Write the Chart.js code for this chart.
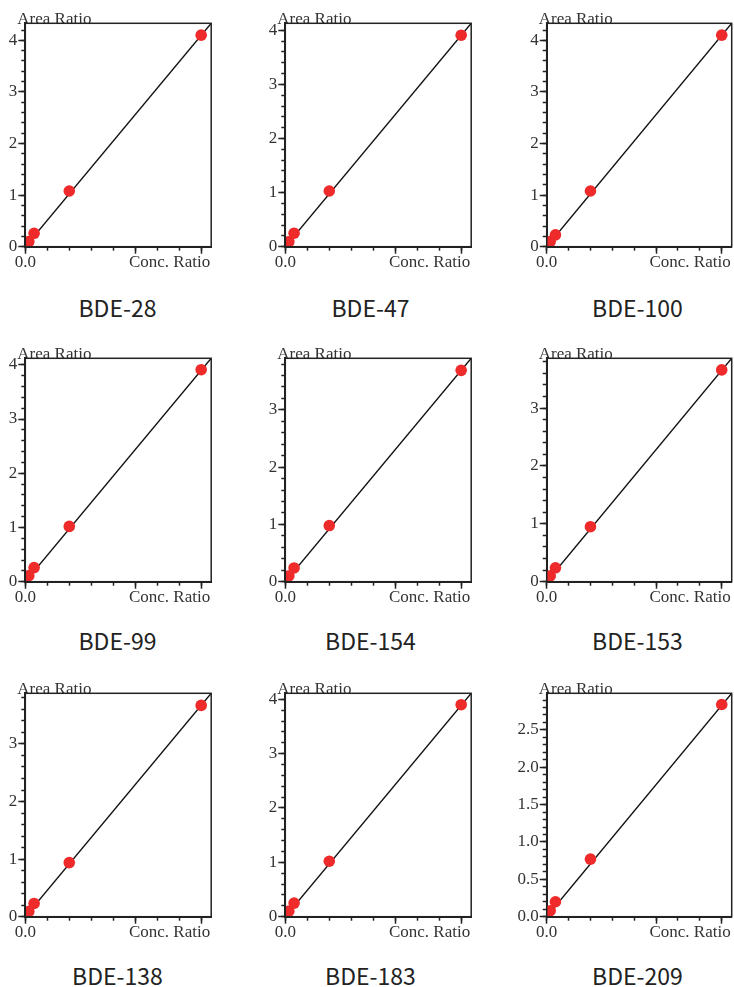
<!DOCTYPE html>
<html><head><meta charset="utf-8">
<script src="https://cdn.jsdelivr.net/npm/chart.js@4"></script>
<style>
html,body{margin:0;padding:0;background:#fff;overflow:hidden;}
#wrap{position:relative;width:734px;height:987px;overflow:hidden;}
canvas{position:absolute;}
.cap{position:absolute;width:200px;text-align:center;font-family:"Noto Sans CJK SC","Noto Sans",sans-serif;font-size:23px;line-height:30px;color:#222;}
</style></head><body><div id="wrap"></div>
<script>
// ---- data ----
const compounds = ['BDE-28','BDE-47','BDE-100','BDE-99','BDE-154','BDE-153','BDE-138','BDE-183','BDE-209'];
const concRatio = [0, 0.02, 0.05, 0.25, 1];
const areaBDE28  = [0.02, 0.10, 0.26, 1.08, 4.10];
const areaBDE47  = [0.03, 0.09, 0.25, 1.03, 3.91];
const areaBDE100 = [0.03, 0.10, 0.23, 1.08, 4.10];
const areaBDE99  = [0.04, 0.11, 0.26, 1.02, 3.91];
const areaBDE154 = [0.03, 0.10, 0.24, 0.98, 3.69];
const areaBDE153 = [0.03, 0.10, 0.24, 0.95, 3.66];
const areaBDE138 = [0.02, 0.09, 0.23, 0.94, 3.67];
const areaBDE183 = [0.03, 0.10, 0.25, 1.02, 3.90];
const areaBDE209 = [0.02, 0.08, 0.20, 0.77, 2.84];
const areaSeries = [areaBDE28, areaBDE47, areaBDE100, areaBDE99, areaBDE154, areaBDE153, areaBDE138, areaBDE183, areaBDE209];
// fitted calibration line: value at the end of the x range
const fitLineStart = [0, 0, 0, 0, 0, 0, 0, 0, 0];
const fitLineEnd   = [4.33, 4.13, 4.33, 4.12, 3.90, 3.86, 3.88, 4.11, 2.99];
// axes
const xAxisMax = 1.057;
const xMajorTicks = [0, 0.625, 1];
const xMinorStep = 0.125;
const xTickLabel = '0.0';
const yAxisMax = [4.33, 4.13, 4.33, 4.12, 3.90, 3.86, 3.88, 4.11, 2.99];
const yMajorStep = [1, 1, 1, 1, 1, 1, 1, 1, 0.5];
const yMinorStep = [0.2, 0.2, 0.2, 0.2, 0.2, 0.2, 0.2, 0.2, 0.1];
const yLabelDecimals = [0, 0, 0, 0, 0, 0, 0, 0, 1];
const yAxisTitle = 'Area Ratio';
const xAxisTitle = 'Conc. Ratio';

// ---- layout ----
const plotLeft = [25.3, 285.3, 546.7];
const plotWidth = [186.7, 187.4, 185];
const plotTop = [23.3, 358.3, 693.3];
const plotHeight = 223.4;
const leftRoom = 40;
const canvasW = 232, canvasH = 282;
const capX = [117.5, 370.5, 637.5];
const capY = [307, 640, 975];

Chart.defaults.font.family = '"Liberation Serif", serif';
Chart.defaults.color = '#333';

const frameText = {
  id: 'frameText',
  afterDraw(chart) {
    const {ctx, chartArea: a} = chart;
    ctx.save();
    ctx.font = '17px "Liberation Serif", serif';
    ctx.fillStyle = '#333';
    ctx.textBaseline = 'alphabetic';
    ctx.textAlign = 'left';
    ctx.fillText(yAxisTitle, a.left - 8, a.top + 1);
    ctx.textAlign = 'right';
    ctx.fillText(xAxisTitle, a.right - 1, a.bottom + 20.3);
    ctx.strokeStyle = '#222';
    ctx.lineWidth = 1.5;
    ctx.strokeRect(a.left, a.top, a.right - a.left, a.bottom - a.top);
    ctx.restore();
  }
};

const wrap = document.getElementById('wrap');
compounds.forEach((name, i) => {
  const col = i % 3, row = Math.floor(i / 3);
  const cLeft = Math.floor(plotLeft[col] - leftRoom);
  const cTop = Math.floor(plotTop[row] - 23);
  const yW = plotLeft[col] - cLeft;
  const padTop = plotTop[row] - cTop;
  const padRight = canvasW - yW - plotWidth[col];
  const xH = canvasH - padTop - plotHeight;

  const cv = document.createElement('canvas');
  cv.width = canvasW; cv.height = canvasH;
  cv.style.left = cLeft + 'px'; cv.style.top = cTop + 'px';
  wrap.appendChild(cv);

  const cap = document.createElement('div');
  cap.className = 'cap';
  cap.textContent = name;
  cap.style.left = (capX[col] - 100) + 'px';
  cap.style.top = (capY[row] - 15) + 'px';
  wrap.appendChild(cap);

  const pts = concRatio.map((x, k) => ({x, y: areaSeries[i][k]}));
  const dec = yLabelDecimals[i];

  new Chart(cv, {
    type: 'scatter',
    data: {
      datasets: [
        { data: pts, backgroundColor: '#ee2a2a', borderWidth: 0, pointRadius: 5.8, order: 0 },
        { data: [{x: 0, y: fitLineStart[i]}, {x: xAxisMax, y: fitLineEnd[i]}], showLine: true,
          borderColor: '#111', borderWidth: 1.4, pointRadius: 0, order: 1 }
      ]
    },
    options: {
      responsive: false, animation: false,
      layout: { padding: { top: padTop, right: padRight, left: 0, bottom: 0 } },
      plugins: { legend: { display: false }, tooltip: { enabled: false }, title: { display: false } },
      scales: {
        x: {
          type: 'linear', position: 'bottom', weight: 1, min: 0, max: xAxisMax,
          afterBuildTicks: ax => { ax.ticks = xMajorTicks.map(v => ({value: v})); },
          afterFit: s => { s.height = xH; },
          ticks: { autoSkip: false, maxRotation: 0, padding: 0, font: { size: 17, lineHeight: 1 },
                   callback: v => v === 0 ? xTickLabel : '' },
          grid: { drawOnChartArea: false, tickLength: 7, tickColor: '#222', tickWidth: 1.5 },
          border: { display: true, color: '#222', width: 2 }
        },
        x2: {
          type: 'linear', position: 'bottom', weight: 0, min: 0, max: xAxisMax,
          afterFit: s => { s.height = 0; },
          ticks: { display: false, stepSize: xMinorStep, includeBounds: false },
          grid: { drawOnChartArea: false, tickLength: 4, tickColor: '#222', tickWidth: 1.5 },
          border: { display: false }
        },
        y: {
          type: 'linear', position: 'left', weight: 1, min: 0, max: yAxisMax[i],
          afterFit: s => { s.width = yW; },
          ticks: { stepSize: yMajorStep[i], includeBounds: false, padding: 1, font: { size: 17 },
                   callback: v => Number(v).toFixed(dec) },
          grid: { drawOnChartArea: false, tickLength: 7, tickColor: '#222', tickWidth: 1.5 },
          border: { display: true, color: '#222', width: 2 }
        },
        y2: {
          type: 'linear', position: 'left', weight: 0, min: 0, max: yAxisMax[i],
          afterFit: s => { s.width = 0; },
          ticks: { display: false, stepSize: yMinorStep[i], includeBounds: false },
          grid: { drawOnChartArea: false, tickLength: 4, tickColor: '#222', tickWidth: 1.5 },
          border: { display: false }
        }
      }
    },
    plugins: [frameText]
  });
});
</script>
</body></html>
